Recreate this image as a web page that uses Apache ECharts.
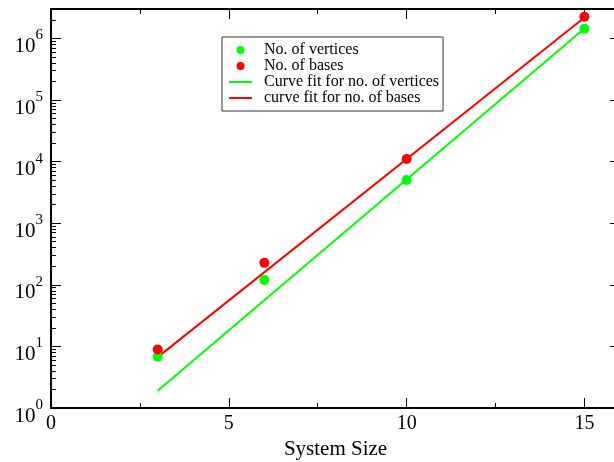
<!DOCTYPE html>
<html>
<head>
<meta charset="utf-8">
<script src="https://cdn.jsdelivr.net/npm/echarts@6/dist/echarts.min.js"></script>
<style>html,body{margin:0;padding:0;background:#fff}#c{width:614px;height:462px}</style>
</head>
<body>
<div id="c"></div>
<script>
// ---- data ----
const sizes = [3, 6, 10, 15];
const vertices = [6.8, 120, 5030, 1430000];
const bases = [8.9, 227, 11000, 2240000];
const fitX = [3, 15];
const fitVertices = [1.9, 1450000];
const fitBases = [6.7, 2190000];

// ---- ticks ----
const xMajor = [0, 5, 10, 15];
const xMinor = [2.5, 7.5, 12.5];
const yMajor = [1, 10, 100, 1000, 10000, 100000, 1000000];
const yMinor = [2,3,4,5,6,7,8,9, 20,30,40,50,60,70,80,90, 200,300,400,500,600,700,800,900,
  2000,3000,4000,5000,6000,7000,8000,9000, 20000,30000,40000,50000,60000,70000,80000,90000,
  200000,300000,400000,500000,600000,700000,800000,900000, 2000000];
const xLabels = ['0', '5', '10', '15'];
const yExp = ['0', '1', '2', '3', '4', '5', '6'];

const FONT = 'Liberation Serif';
const black = '#000';
const LINE_ICON = 'path://M0,0H23V2H0Z';

function xAxis(position, ticks, len, showLine, showLabel) {
  return {
    type: 'value', min: 0, max: 16, position: position,
    splitLine: {show: false},
    axisLine: {show: showLine, onZero: false, lineStyle: {color: black, width: 2}},
    axisTick: {show: true, inside: true, length: len, customValues: ticks, lineStyle: {color: black, width: 1}},
    axisLabel: {show: showLabel, customValues: xMajor, margin: 6, color: black, fontFamily: FONT, fontSize: 20,
      formatter: v => xLabels[xMajor.indexOf(v)] ?? ''},
    name: showLabel ? 'System Size' : '', nameLocation: 'middle', nameGap: 27,
    nameTextStyle: {color: black, fontFamily: FONT, fontSize: 21}
  };
}
function yAxis(position, ticks, len, showLine, showLabel) {
  return {
    type: 'log', logBase: 10, min: 1, max: 3000000, position: position,
    splitLine: {show: false}, minorTick: {show: false},
    axisLine: {show: showLine, onZero: false, lineStyle: {color: black, width: 2}},
    axisTick: {show: true, inside: true, length: len, customValues: ticks, lineStyle: {color: black, width: 1}},
    axisLabel: {show: showLabel, customValues: yMajor, margin: 8, padding: [8, 0, 0, 0],
      formatter: v => { const i = yMajor.indexOf(v); return i < 0 ? '' : '{b|10}{s|' + yExp[i] + '}'; },
      rich: {
        b: {fontFamily: FONT, fontSize: 21, color: black, verticalAlign: 'bottom'},
        s: {fontFamily: FONT, fontSize: 15, color: black, verticalAlign: 'bottom', padding: [0, 0, 14, 0]}
      }}
  };
}

const chart = echarts.init(document.getElementById('c'), null, {renderer: 'canvas'});
chart.setOption({
  animation: false,
  backgroundColor: '#fff',
  grid: {left: 51, right: -6, top: 9, bottom: 54, outerBoundsMode: 'none', containLabel: false},
  xAxis: [
    xAxis('bottom', xMajor, 10, true, true),
    xAxis('bottom', xMinor, 5, false, false),
    xAxis('top', xMajor, 10, true, false),
    xAxis('top', xMinor, 5, false, false)
  ],
  yAxis: [
    yAxis('left', yMajor, 10, true, true),
    yAxis('left', yMinor, 5, false, false),
    yAxis('right', yMajor, 10, true, false),
    yAxis('right', yMinor, 5, false, false)
  ],
  legend: {
    orient: 'vertical', left: 222, top: 37,
    itemWidth: 23, itemHeight: 8, itemGap: 0,
    padding: [5, 4, 5, 7],
    borderColor: '#333', borderWidth: 1, backgroundColor: '#fff',
    textStyle: {color: black, fontFamily: FONT, fontSize: 16, lineHeight: 15, padding: [0, 0, 0, 7]},
    data: [
      {name: 'No. of vertices', icon: 'circle'},
      {name: 'No. of bases', icon: 'circle'},
      {name: 'Curve fit for no. of vertices', icon: LINE_ICON},
      {name: 'curve fit for no. of bases', icon: LINE_ICON}
    ]
  },
  series: [
    {name: 'Curve fit for no. of vertices', type: 'line', data: fitX.map((x, i) => [x, fitVertices[i]]),
      symbol: 'none', lineStyle: {color: '#00ff00', width: 2}, itemStyle: {color: '#00ff00'}, z: 2},
    {name: 'curve fit for no. of bases', type: 'line', data: fitX.map((x, i) => [x, fitBases[i]]),
      symbol: 'none', lineStyle: {color: '#ff0000', width: 2}, itemStyle: {color: '#ff0000'}, z: 2},
    {name: 'No. of vertices', type: 'scatter', data: sizes.map((x, i) => [x, vertices[i]]),
      symbolSize: 10, itemStyle: {color: '#00ff00', opacity: 1}, z: 3},
    {name: 'No. of bases', type: 'scatter', data: sizes.map((x, i) => [x, bases[i]]),
      symbolSize: 10, itemStyle: {color: '#ff0000', opacity: 1}, z: 3}
  ]
});
</script>
</body>
</html>
